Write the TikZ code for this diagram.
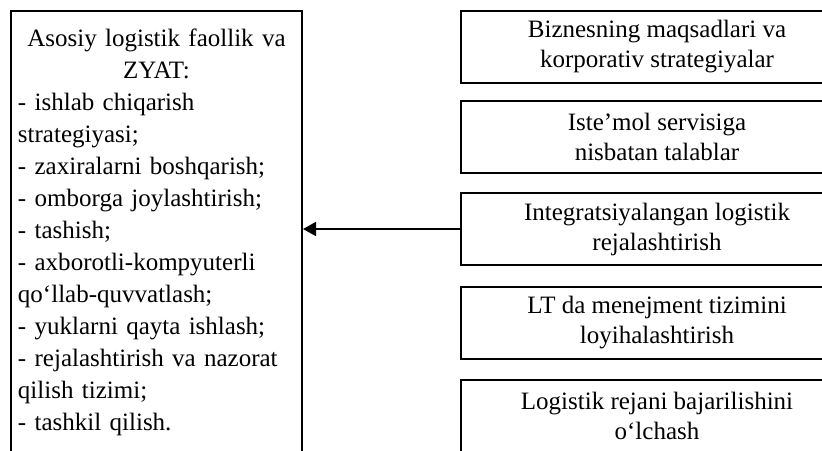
\documentclass[tikz,border=0pt]{standalone}
\usepackage{fontspec}
\setmainfont{Liberation Serif}
\usetikzlibrary{arrows.meta}

\begin{document}
\begin{tikzpicture}[
  x=0.5pt, y=0.5pt,
  listbox/.style={draw=black, line width=1pt, text width=138.5pt, inner xsep=3.5pt,
                  inner ysep=9pt, anchor=north west, font=\fontsize{12.5}{16}\selectfont},
  blockbox/.style={draw=black, line width=1pt, align=center, inner sep=0pt,
                   minimum width=196pt, minimum height=36pt, font=\fontsize{12.5}{15}\selectfont},
  arr/.style={-{Triangle[length=6.5pt, width=7pt]}, line width=0.8pt}
]
\useasboundingbox (0,0) rectangle (822,-450);
\clip (0,0) rectangle (822,-450);
% ----- left: activities list (runs past the bottom edge) -----
\node[listbox] (act) at (10,-10)
  {\centering Asosiy logistik faollik va\\ZYAT:\par
   \raggedright - ishlab chiqarish\\strategiyasi;\\- zaxiralarni boshqarish;\\
   - omborga joylashtirish;\\- tashish;\\- axborotli-kompyuterli\\
   qo‘llab-quvvatlash;\\- yuklarni qayta ishlash;\\- rejalashtirish va nazorat\\
   qilish tizimi;\\- tashkil qilish.\rule[-24pt]{0pt}{24pt}};
% ----- right rail (runs past the right edge) -----
\node[blockbox] (biz)  at (657,-46.5) {Biznesning maqsadlari va\\korporativ strategiyalar};
\node[blockbox] (srv)  at (657,-137)  {Iste’mol servisiga\\nisbatan talablar};
\node[blockbox] (intg) at (657,-229)  {Integratsiyalangan logistik\\rejalashtirish};
\node[blockbox] (ltm)  at (657,-323)  {LT da menejment tizimini\\loyihalashtirish};
\node[blockbox] (meas) at (657,-416)  {Logistik rejani bajarilishini\\o‘lchash};
% ----- planning feeds the activities -----
\draw[arr] (intg.west) -- (act.east |- intg.west);
\end{tikzpicture}
\end{document}
